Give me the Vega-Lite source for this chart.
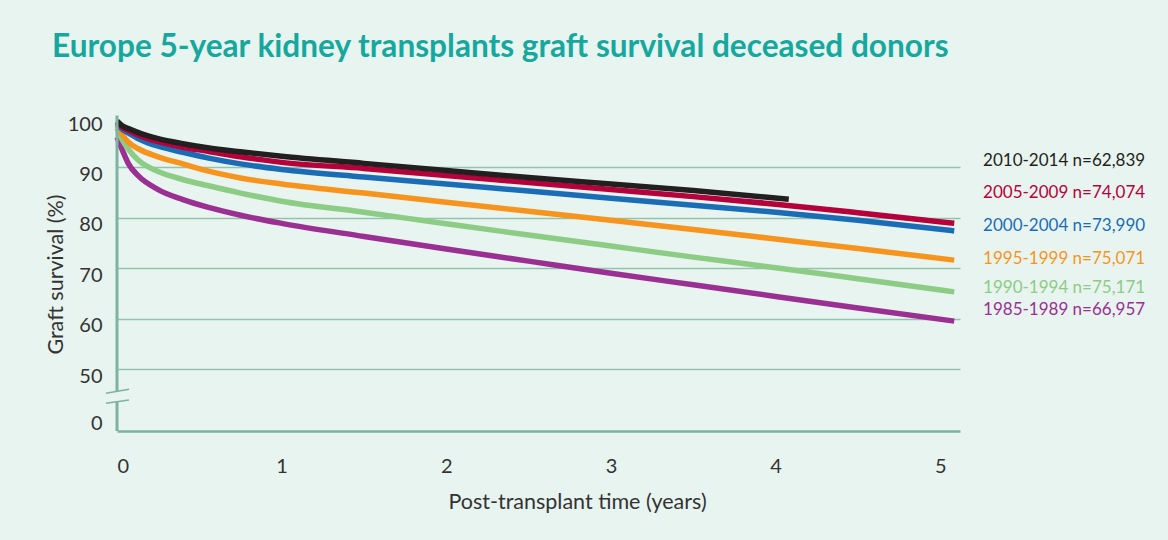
{
  "$schema": "https://vega.github.io/schema/vega-lite/v6.json",
  "width": 843,
  "height": 314,
  "autosize": {"type": "none"},
  "padding": {"left": 117, "top": 117, "right": 208, "bottom": 109},
  "background": "#e8f4ef",
  "config": {"view": {"stroke": null}, "font": "Lato"},
  "title": {
    "text": "Europe 5-year kidney transplants graft survival deceased donors",
    "anchor": "start",
    "frame": "group",
    "font": "Lato",
    "fontSize": 31.6,
    "fontWeight": "bold",
    "color": "#16a89e",
    "dx": -65,
    "offset": 46
  },
  "datasets": {
    "curves": [
      {"period": "1985-1989", "t": 0, "s": 96.0},
      {"period": "1985-1989", "t": 0.03, "s": 93.6},
      {"period": "1985-1989", "t": 0.07, "s": 90.7},
      {"period": "1985-1989", "t": 0.13, "s": 88.3},
      {"period": "1985-1989", "t": 0.25, "s": 85.6},
      {"period": "1985-1989", "t": 0.4, "s": 83.6},
      {"period": "1985-1989", "t": 0.55, "s": 82.1},
      {"period": "1985-1989", "t": 0.75, "s": 80.5},
      {"period": "1985-1989", "t": 1.0, "s": 78.9},
      {"period": "1985-1989", "t": 1.5, "s": 76.3},
      {"period": "1985-1989", "t": 2.0, "s": 73.8},
      {"period": "1985-1989", "t": 2.5, "s": 71.4},
      {"period": "1985-1989", "t": 3.0, "s": 69.0},
      {"period": "1985-1989", "t": 3.5, "s": 66.7},
      {"period": "1985-1989", "t": 4.0, "s": 64.4},
      {"period": "1985-1989", "t": 4.5, "s": 62.1},
      {"period": "1985-1989", "t": 5.085, "s": 59.5},
      {"period": "1990-1994", "t": 0, "s": 97.8},
      {"period": "1990-1994", "t": 0.03, "s": 95.6},
      {"period": "1990-1994", "t": 0.07, "s": 93.6},
      {"period": "1990-1994", "t": 0.13, "s": 91.4},
      {"period": "1990-1994", "t": 0.25, "s": 89.2},
      {"period": "1990-1994", "t": 0.4, "s": 87.6},
      {"period": "1990-1994", "t": 0.55, "s": 86.4},
      {"period": "1990-1994", "t": 0.75, "s": 84.9},
      {"period": "1990-1994", "t": 1.0, "s": 83.3},
      {"period": "1990-1994", "t": 1.5, "s": 81.1},
      {"period": "1990-1994", "t": 2.0, "s": 78.8},
      {"period": "1990-1994", "t": 2.5, "s": 76.6},
      {"period": "1990-1994", "t": 3.0, "s": 74.4},
      {"period": "1990-1994", "t": 3.5, "s": 72.2},
      {"period": "1990-1994", "t": 4.0, "s": 70.1},
      {"period": "1990-1994", "t": 4.5, "s": 67.9},
      {"period": "1990-1994", "t": 5.085, "s": 65.3},
      {"period": "1995-1999", "t": 0, "s": 98.4},
      {"period": "1995-1999", "t": 0.03, "s": 96.6},
      {"period": "1995-1999", "t": 0.07, "s": 95.0},
      {"period": "1995-1999", "t": 0.13, "s": 93.7},
      {"period": "1995-1999", "t": 0.25, "s": 92.1},
      {"period": "1995-1999", "t": 0.4, "s": 90.7},
      {"period": "1995-1999", "t": 0.55, "s": 89.3},
      {"period": "1995-1999", "t": 0.75, "s": 87.9},
      {"period": "1995-1999", "t": 1.0, "s": 86.7},
      {"period": "1995-1999", "t": 1.5, "s": 84.9},
      {"period": "1995-1999", "t": 2.0, "s": 83.1},
      {"period": "1995-1999", "t": 2.5, "s": 81.3},
      {"period": "1995-1999", "t": 3.0, "s": 79.5},
      {"period": "1995-1999", "t": 3.5, "s": 77.7},
      {"period": "1995-1999", "t": 4.0, "s": 75.8},
      {"period": "1995-1999", "t": 4.5, "s": 73.9},
      {"period": "1995-1999", "t": 5.085, "s": 71.6},
      {"period": "2000-2004", "t": 0, "s": 98.8},
      {"period": "2000-2004", "t": 0.03, "s": 97.6},
      {"period": "2000-2004", "t": 0.07, "s": 96.8},
      {"period": "2000-2004", "t": 0.13, "s": 95.7},
      {"period": "2000-2004", "t": 0.25, "s": 94.2},
      {"period": "2000-2004", "t": 0.4, "s": 93.0},
      {"period": "2000-2004", "t": 0.55, "s": 91.9},
      {"period": "2000-2004", "t": 0.75, "s": 90.7},
      {"period": "2000-2004", "t": 1.0, "s": 89.6},
      {"period": "2000-2004", "t": 1.5, "s": 88.1},
      {"period": "2000-2004", "t": 2.0, "s": 86.7},
      {"period": "2000-2004", "t": 2.5, "s": 85.3},
      {"period": "2000-2004", "t": 3.0, "s": 83.9},
      {"period": "2000-2004", "t": 3.5, "s": 82.5},
      {"period": "2000-2004", "t": 4.0, "s": 81.1},
      {"period": "2000-2004", "t": 4.5, "s": 79.5},
      {"period": "2000-2004", "t": 5.085, "s": 77.4},
      {"period": "2005-2009", "t": 0, "s": 99.0},
      {"period": "2005-2009", "t": 0.03, "s": 98.0},
      {"period": "2005-2009", "t": 0.07, "s": 97.3},
      {"period": "2005-2009", "t": 0.13, "s": 96.4},
      {"period": "2005-2009", "t": 0.25, "s": 95.1},
      {"period": "2005-2009", "t": 0.4, "s": 94.0},
      {"period": "2005-2009", "t": 0.55, "s": 93.2},
      {"period": "2005-2009", "t": 0.75, "s": 92.1},
      {"period": "2005-2009", "t": 1.0, "s": 91.0},
      {"period": "2005-2009", "t": 1.5, "s": 89.8},
      {"period": "2005-2009", "t": 2.0, "s": 88.4},
      {"period": "2005-2009", "t": 2.5, "s": 87.0},
      {"period": "2005-2009", "t": 3.0, "s": 85.6},
      {"period": "2005-2009", "t": 3.5, "s": 84.2},
      {"period": "2005-2009", "t": 4.0, "s": 82.7},
      {"period": "2005-2009", "t": 4.5, "s": 81.0},
      {"period": "2005-2009", "t": 5.085, "s": 78.9},
      {"period": "2010-2014", "t": 0, "s": 99.2},
      {"period": "2010-2014", "t": 0.03, "s": 98.3},
      {"period": "2010-2014", "t": 0.07, "s": 97.7},
      {"period": "2010-2014", "t": 0.13, "s": 96.9},
      {"period": "2010-2014", "t": 0.25, "s": 95.7},
      {"period": "2010-2014", "t": 0.4, "s": 94.7},
      {"period": "2010-2014", "t": 0.55, "s": 93.9},
      {"period": "2010-2014", "t": 0.75, "s": 93.1},
      {"period": "2010-2014", "t": 1.0, "s": 92.2},
      {"period": "2010-2014", "t": 1.5, "s": 90.8},
      {"period": "2010-2014", "t": 2.0, "s": 89.4},
      {"period": "2010-2014", "t": 2.5, "s": 88.0},
      {"period": "2010-2014", "t": 3.0, "s": 86.7},
      {"period": "2010-2014", "t": 3.5, "s": 85.4},
      {"period": "2010-2014", "t": 4.08, "s": 83.7}
    ],
    "labels": [
      {"period": "2010-2014", "label": "2010-2014 n=62,839", "pos": 91.2},
      {"period": "2005-2009", "label": "2005-2009 n=74,074", "pos": 85.0},
      {"period": "2000-2004", "label": "2000-2004 n=73,990", "pos": 78.4},
      {"period": "1995-1999", "label": "1995-1999 n=75,071", "pos": 71.8},
      {"period": "1990-1994", "label": "1990-1994 n=75,171", "pos": 66.0},
      {"period": "1985-1989", "label": "1985-1989 n=66,957", "pos": 61.7}
    ]
  },
  "layer": [
    {
      "data": {"name": "curves"},
      "mark": {"type": "line", "strokeWidth": 5.5, "interpolate": "monotone", "clip": false},
      "encoding": {
        "x": {
          "field": "t",
          "type": "quantitative",
          "scale": {"domain": [0, 5.12], "nice": false, "zero": false},
          "axis": {
            "values": [0, 1, 2, 3, 4, 5],
            "format": "d",
            "title": "Post-transplant time (years)",
            "grid": false,
            "ticks": false,
            "domain": true,
            "domainColor": "#7db3a0",
            "domainWidth": 2.5,
            "labelFont": "Lato",
            "labelFontSize": 20,
            "labelColor": "#333333",
            "labelPadding": 25,
            "titleFont": "Lato",
            "titleFontSize": 21.5,
            "titleFontWeight": "normal",
            "titleColor": "#333333",
            "titlePadding": 15,
            "titleX": 460,
            "titleAlign": "center"
          }
        },
        "y": {
          "field": "s",
          "type": "quantitative",
          "scale": {"domain": [0, 50, 100], "range": [314, 252, 0], "nice": false, "zero": false},
          "axis": {
            "values": [0, 50, 60, 70, 80, 90, 100],
            "title": "Graft survival (%)",
            "domain": false,
            "ticks": false,
            "grid": true,
            "gridColor": "#94c2ae",
            "gridWidth": 1.5,
            "gridOpacity": {"condition": {"test": "datum.value >= 50 && datum.value <= 90", "value": 1}, "value": 0},
            "labelFont": "Lato",
            "labelFontSize": 20,
            "labelColor": "#333333",
            "labelPadding": 15,
            "labelOffset": {"condition": {"test": "datum.value == 0", "value": -8}, "value": 7},
            "titleFont": "Lato",
            "titleFontSize": 21.5,
            "titleFontWeight": "normal",
            "titleColor": "#333333",
            "titlePadding": 0
          }
        },
        "color": {
          "field": "period",
          "type": "nominal",
          "scale": {
            "domain": ["1985-1989", "1990-1994", "1995-1999", "2000-2004", "2005-2009", "2010-2014"],
            "range": ["#993092", "#8ccc84", "#f7941e", "#1a6db5", "#b5003b", "#231f20"]
          },
          "legend": null
        }
      }
    },
    {
      "data": {"values": [{}]},
      "mark": {"type": "rule", "color": "#7db3a0", "strokeWidth": 3},
      "encoding": {"x": {"datum": 0}, "y": {"datum": 32.3}, "y2": {"datum": 100.3}}
    },
    {
      "data": {"values": [{}]},
      "mark": {"type": "rule", "color": "#7db3a0", "strokeWidth": 3},
      "encoding": {"x": {"datum": 0}, "y": {"datum": 0}, "y2": {"datum": 23.4}}
    },
    {
      "data": {"values": [{}]},
      "mark": {"type": "rule", "color": "#7db3a0", "strokeWidth": 1.5},
      "encoding": {"x": {"datum": -0.067}, "x2": {"datum": 0.073}, "y": {"datum": 30.4}, "y2": {"datum": 33.6}}
    },
    {
      "data": {"values": [{}]},
      "mark": {"type": "rule", "color": "#7db3a0", "strokeWidth": 1.5},
      "encoding": {"x": {"datum": -0.067}, "x2": {"datum": 0.073}, "y": {"datum": 22.3}, "y2": {"datum": 25.0}}
    },
    {
      "data": {"name": "labels"},
      "mark": {"type": "text", "align": "left", "baseline": "middle", "font": "Lato", "fontSize": 17},
      "encoding": {
        "x": {"datum": 5.26},
        "y": {"field": "pos", "type": "quantitative"},
        "text": {"field": "label"},
        "color": {"field": "period", "type": "nominal", "legend": null}
      }
    }
  ]
}
